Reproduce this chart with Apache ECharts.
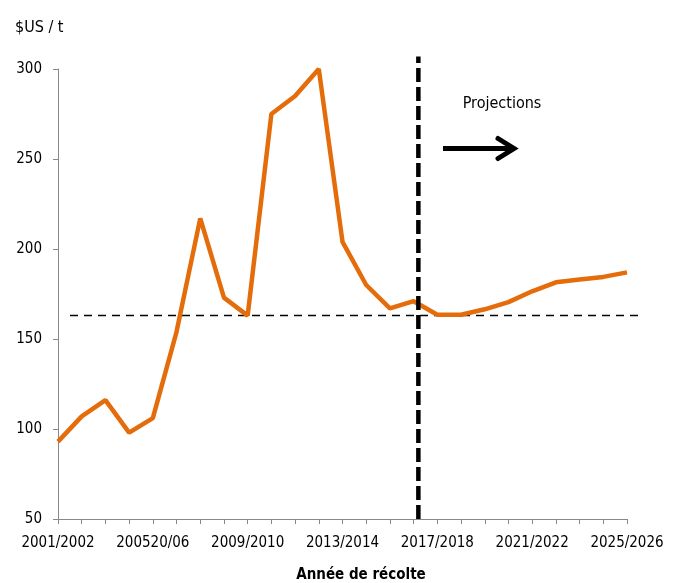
<!DOCTYPE html>
<html>
<head>
<meta charset="utf-8">
<script src="https://cdn.jsdelivr.net/npm/echarts@6/dist/echarts.min.js"></script>
<style>
html,body{margin:0;padding:0;background:#fff;}
#c{width:678px;height:583px;}
</style>
</head>
<body>
<div id="c"></div>
<script>
var categories = ['2001/2002','2002/2003','2003/2004','2004/2005','200520/06','2006/2007','2007/2008','2008/2009','2009/2010','2010/2011','2011/2012','2012/2013','2013/2014','2014/2015','2015/2016','2016/2017','2017/2018','2018/2019','2019/2020','2020/2021','2021/2022','2022/2023','2023/2024','2024/2025','2025/2026'];
var prices = [93,107,116,98,106,154,217,173,163,275,285,300,204,180,167,171,163.5,163.5,166.5,170.5,176.5,181.5,183,184.5,187];
var averageLevel = 163;
var projectionStart = 15.2;
var projectionSpan = [50, 307];
var yTicks = {min:50, max:300, interval:50};

var FONT = '"DejaVu Sans Condensed","Liberation Sans Narrow","Arial Narrow",sans-serif';
var chart = echarts.init(document.getElementById('c'), null, {renderer:'canvas'});
chart.setOption({
  animation:false,
  backgroundColor:'#fff',
  title:{text:'$US / t', left:10, top:15, padding:5, textStyle:{fontFamily:FONT, fontSize:16, fontWeight:'normal', color:'#000'}},
  grid:[
    {left:58, right:51, top:69, bottom:64, containLabel:false, outerBoundsMode:'none'},
    {left:70, right:39, top:69, bottom:64, containLabel:false, outerBoundsMode:'none', show:false}
  ],
  xAxis:[{
    type:'category', data:categories, boundaryGap:false, gridIndex:0,
    axisLine:{lineStyle:{color:'#888',width:1}},
    axisTick:{show:true, interval:0, length:5, inside:false, lineStyle:{color:'#888'}},
    axisLabel:{interval:3, color:'#000', fontFamily:FONT, fontSize:15, margin:17},
    splitLine:{show:false}
  },{
    type:'value', min:0, max:categories.length-1, show:false, gridIndex:0
  },{
    type:'value', min:0, max:1, show:false, gridIndex:1
  }],
  yAxis:[{
    type:'value', min:yTicks.min, max:yTicks.max, interval:yTicks.interval, gridIndex:0,
    axisLine:{show:true, lineStyle:{color:'#888',width:1}},
    axisTick:{show:true, length:5, lineStyle:{color:'#888'}},
    axisLabel:{color:'#000', fontFamily:FONT, fontSize:15, margin:16},
    splitLine:{show:false}
  },{
    type:'value', min:yTicks.min, max:yTicks.max, gridIndex:1, show:false
  }],
  series:[{
    type:'line', xAxisIndex:2, yAxisIndex:1, data:[[0,averageLevel],[1,averageLevel]],
    symbol:'none', clip:false, lineStyle:{color:'#000', width:1.5, type:[8,6]}, z:2
  },{
    type:'line', xAxisIndex:0, yAxisIndex:0, data:prices, symbol:'none',
    lineStyle:{color:'#E46C0A', width:4.5}, z:3
  },{
    type:'line', xAxisIndex:1, yAxisIndex:0, data:[[projectionStart,projectionSpan[0]],[projectionStart,projectionSpan[1]]],
    symbol:'none', clip:false, lineStyle:{color:'#000', width:4.5, type:[14,5]}, z:4
  }],
  graphic:[
    {type:'text', x:361, y:575, style:{text:'Année de récolte', font:'bold 15px '+FONT, fill:'#000', align:'center', verticalAlign:'middle'}},
    {type:'text', x:502, y:104, style:{text:'Projections', font:'16px '+FONT, fill:'#000', align:'center', verticalAlign:'middle'}},
    {type:'line', shape:{x1:443,y1:148.5,x2:513,y2:148.5}, style:{stroke:'#000', lineWidth:5}},
    {type:'polyline', shape:{points:[[498,138.5],[514,148.5],[498,158.5]]}, style:{stroke:'#000', lineWidth:5, fill:null, lineJoin:'miter', lineCap:'round'}}
  ]
});
</script>
</body>
</html>
